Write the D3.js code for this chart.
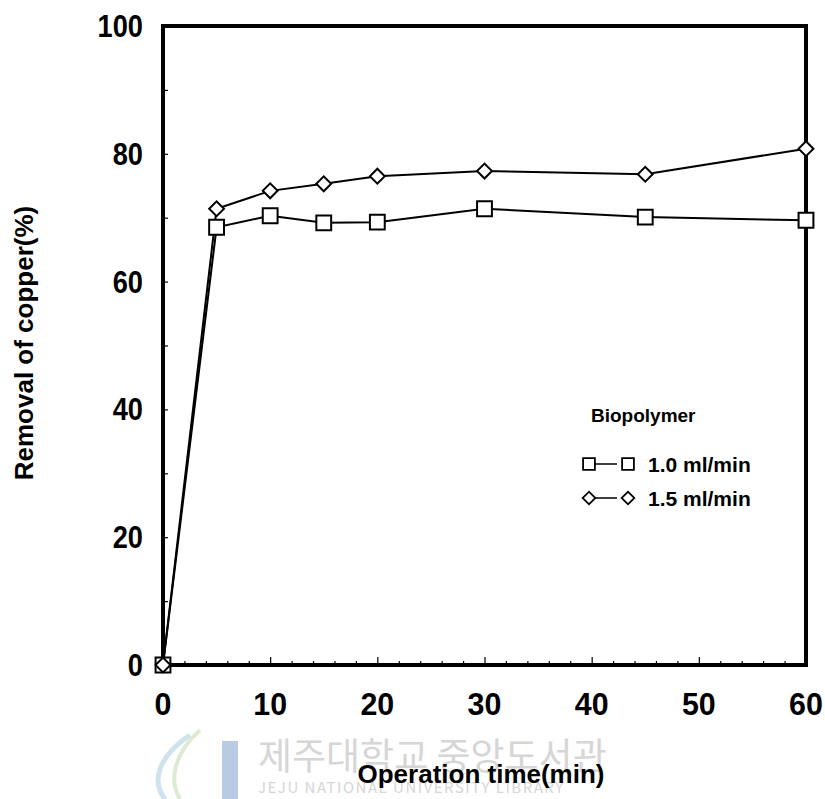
<!DOCTYPE html>
<html>
<head>
<meta charset="utf-8">
<script src="https://cdn.jsdelivr.net/npm/d3@7"></script>
<style>
  body { margin: 0; background: #fff; }
  svg text { font-family: "Liberation Sans", Arial, sans-serif; font-weight: bold; fill: #000; }
  .wm { font-family: "Noto Sans CJK KR", sans-serif !important; font-weight: normal !important; fill: #d6d6d6 !important; }
</style>
</head>
<body>
<svg class="chart"></svg>
<script>
// operation time (min)
const times = [0, 5, 10, 15, 20, 30, 45, 60]
// removal of copper (%)
const flow10 = [0, 68.5, 70.3, 69.2, 69.3, 71.4, 70.1, 69.6]
const flow15 = [0, 71.4, 74.2, 75.3, 76.5, 77.3, 76.8, 80.8]
const seriesNames = ['1.0 ml/min', '1.5 ml/min']
const xTicks = [0, 10, 20, 30, 40, 50, 60]
const yTicks = [0, 20, 40, 60, 80, 100]

const width = 825
const height = 799
const margin = { top: 26, right: 19, bottom: 134, left: 163 }

const svg = d3.select('.chart')
    .attr('width', width)
    .attr('height', height)

const x = d3.scaleLinear()
    .domain([0, 60])
    .range([margin.left, width - margin.right])

const y = d3.scaleLinear()
    .domain([0, 100])
    .range([height - margin.bottom, margin.top])

// library watermark, behind everything
const wm = svg.append('g')

wm.append('path')
    .attr('d', 'M190,735 C160,755 150,780 165,799')
    .attr('fill', 'none')
    .attr('stroke', '#cfe3ee')
    .attr('stroke-width', 5)
wm.append('path')
    .attr('d', 'M200,730 C175,752 168,780 180,799')
    .attr('fill', 'none')
    .attr('stroke', '#dcebd2')
    .attr('stroke-width', 4)
wm.append('rect')
    .attr('x', 222)
    .attr('y', 741)
    .attr('width', 16)
    .attr('height', 58)
    .attr('fill', '#b9cbe4')

wm.append('text')
    .attr('class', 'wm')
    .attr('x', 258)
    .attr('y', 770)
    .style('font-size', '37px')
    .text('제주대학교 중앙도서관')

wm.append('text')
    .attr('class', 'wm')
    .attr('x', 258)
    .attr('y', 793)
    .style('font-size', '15px')
    .style('letter-spacing', '1.5px')
    .text('JEJU NATIONAL UNIVERSITY LIBRARY')

// minor ticks, pointing inward
const xAxis = d3.axisBottom(x)
    .tickValues(d3.range(0, 61, 2))
    .tickSize(-4)
    .tickFormat('')

const gx = svg.append('g')
    .attr('transform', `translate(0, ${y(0)})`)
    .call(xAxis)
gx.select('.domain').remove()
gx.selectAll('line')
    .attr('stroke-width', 1.2)
    .attr('y2', d => d % 10 === 0 ? -8 : -4)

const yAxis = d3.axisLeft(y)
    .tickValues(d3.range(10, 100, 10))
    .tickSize(-5)
    .tickFormat('')

const gy = svg.append('g')
    .attr('transform', `translate(${x(0)}, 0)`)
    .call(yAxis)
gy.select('.domain').remove()
gy.selectAll('line').attr('stroke-width', 1.2)

// frame
svg.append('rect')
    .attr('x', x(0))
    .attr('y', y(100))
    .attr('width', x(60) - x(0))
    .attr('height', y(0) - y(100))
    .attr('fill', 'none')
    .attr('stroke', '#000')
    .attr('stroke-width', 4)

// tick labels
svg.selectAll('.xlab')
    .data(xTicks)
    .enter()
    .append('text')
    .attr('transform', d => `translate(${x(d)}, ${y(0) + 50}) scale(0.95, 1)`)
    .attr('text-anchor', 'middle')
    .style('font-size', '32px')
    .text(d => d)

svg.selectAll('.ylab')
    .data(yTicks)
    .enter()
    .append('text')
    .attr('transform', d => `translate(${x(0) - 20}, ${y(d) + 11}) scale(0.85, 1)`)
    .attr('text-anchor', 'end')
    .style('font-size', '32px')
    .text(d => d)

// axis titles
svg.append('text')
    .attr('transform', `translate(33, 343) rotate(-90)`)
    .attr('text-anchor', 'middle')
    .style('font-size', '26px')
    .text('Removal of copper(%)')

svg.append('text')
    .attr('x', 481)
    .attr('y', 783)
    .attr('text-anchor', 'middle')
    .style('font-size', '26px')
    .text('Operation time(min)')

// series
const line = d3.line()
    .x(d => x(d[0]))
    .y(d => y(d[1]))

const squarePts = times.map((t, i) => [t, flow10[i]])
const diamondPts = times.map((t, i) => [t, flow15[i]])

const drawLine = pts => svg.append('path')
    .datum(pts)
    .attr('d', line)
    .attr('fill', 'none')
    .attr('stroke', '#000')
    .attr('stroke-width', 2)

drawLine(squarePts)
drawLine(diamondPts)

const squareSym = d3.symbol().type(d3.symbolSquare).size(220)
const diamondSym = d3.symbol().type(d3.symbolSquare).size(110)

svg.selectAll('.sq')
    .data(squarePts)
    .enter()
    .append('path')
    .attr('d', squareSym)
    .attr('transform', d => `translate(${x(d[0])}, ${y(d[1])})`)
    .attr('fill', '#fff')
    .attr('stroke', '#000')
    .attr('stroke-width', 2)

svg.selectAll('.di')
    .data(diamondPts)
    .enter()
    .append('path')
    .attr('d', diamondSym)
    .attr('transform', d => `translate(${x(d[0])}, ${y(d[1])}) rotate(45)`)
    .attr('fill', '#fff')
    .attr('stroke', '#000')
    .attr('stroke-width', 2)

// legend
const legend = svg.append('g')

legend.append('text')
    .attr('x', 591)
    .attr('y', 422)
    .style('font-size', '19px')
    .text('Biopolymer')

const legRows = [
    { name: seriesNames[0], sym: d3.symbol().type(d3.symbolSquare).size(140), rot: 0, y: 464 },
    { name: seriesNames[1], sym: d3.symbol().type(d3.symbolSquare).size(80), rot: 45, y: 498 }
]

legRows.forEach(r => {
    legend.append('line')
        .attr('x1', 595)
        .attr('x2', 617)
        .attr('y1', r.y)
        .attr('y2', r.y)
        .attr('stroke', '#000')
        .attr('stroke-width', 1.5)
    ;[589, 628].forEach(cx => {
        legend.append('path')
            .attr('d', r.sym)
            .attr('transform', `translate(${cx}, ${r.y}) rotate(${r.rot})`)
            .attr('fill', '#fff')
            .attr('stroke', '#000')
            .attr('stroke-width', 1.8)
    })
    legend.append('text')
        .attr('x', 648)
        .attr('y', r.y + 8)
        .style('font-size', '21px')
        .text(r.name)
})
</script>
</body>
</html>
